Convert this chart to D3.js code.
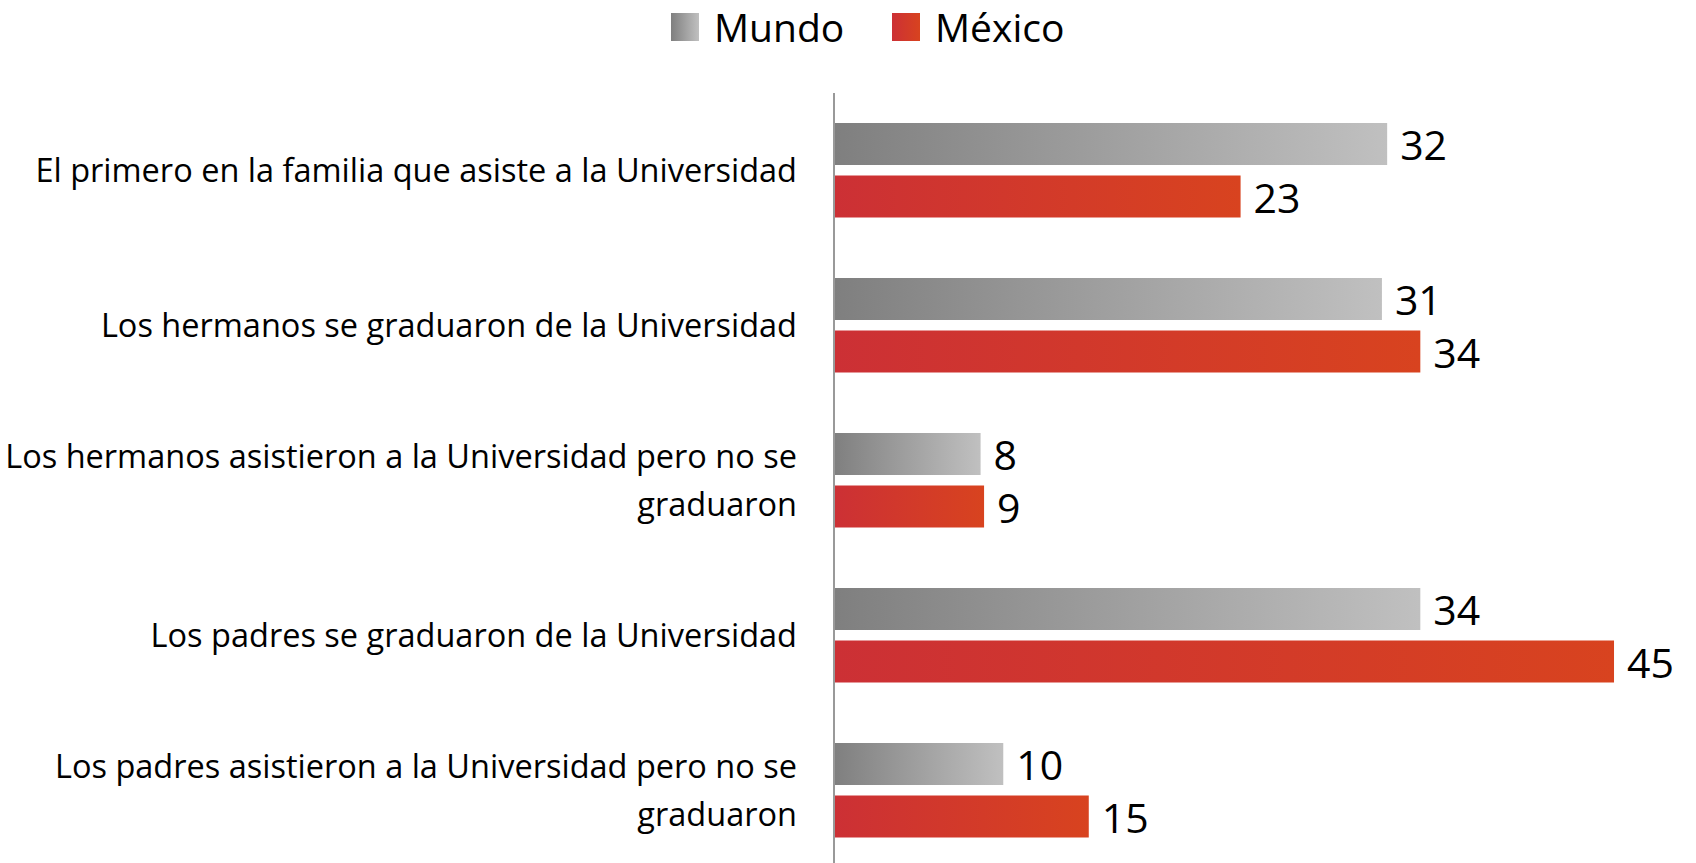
<!DOCTYPE html>
<html>
<head>
<meta charset="utf-8">
<script src="https://cdn.jsdelivr.net/npm/d3@7"></script>
<style>
  body { margin: 0; background: #fff; }
  text { font-family: "Open Sans", "Liberation Sans", sans-serif; fill: #000; font-variant-ligatures: none; }
</style>
</head>
<body>
<svg id="chart"></svg>
<script>
// categories, top to bottom
var categories = [
  "El primero en la familia que asiste a la Universidad",
  "Los hermanos se graduaron de la Universidad",
  "Los hermanos asistieron a la Universidad pero no se\ngraduaron",
  "Los padres se graduaron de la Universidad",
  "Los padres asistieron a la Universidad pero no se\ngraduaron"
];
var series = ["Mundo", "México"];
var mundo = [31.7, 31.4, 8.4, 33.6, 9.7];
var mexico = [23.3, 33.6, 8.6, 44.7, 14.6];

var width = 1696, height = 863;
var svg = d3.select("#chart").attr("width", width).attr("height", height);

var defs = svg.append("defs");
var grads = { "Mundo": ["#7f7f7f", "#c0c0c0"], "México": ["#cc3035", "#d8431f"] };
series.forEach(function(s, i){
  var g = defs.append("linearGradient").attr("id", "grad" + i);
  g.append("stop").attr("offset", "0%").attr("stop-color", grads[s][0]);
  g.append("stop").attr("offset", "100%").attr("stop-color", grads[s][1]);
});

var x = d3.scaleLinear().domain([0, 45]).range([834, 834 + 45 * 17.45]);
var y0 = d3.scaleBand().domain(categories).range([93, 93 + 5 * 155]);
var y1 = d3.scaleBand().domain(series).range([30, 124.5]).paddingInner(0.2);

var rows = categories.map(function(c, i){
  return { cat: c, vals: [ {s: "Mundo", v: mundo[i]}, {s: "México", v: mexico[i]} ] };
});

// bars
var grp = svg.selectAll(".grp").data(rows).enter().append("g")
  .attr("class", "grp")
  .attr("transform", function(d){ return "translate(0," + y0(d.cat) + ")"; });

grp.selectAll("rect").data(function(d){ return d.vals; }).enter().append("rect")
  .attr("x", x(0))
  .attr("y", function(d){ return y1(d.s); })
  .attr("width", function(d){ return x(d.v) - x(0); })
  .attr("height", y1.bandwidth())
  .attr("fill", function(d){ return "url(#grad" + series.indexOf(d.s) + ")"; });

grp.selectAll(".val").data(function(d){ return d.vals; }).enter().append("text")
  .attr("class", "val")
  .attr("x", function(d){ return x(d.v) + 13; })
  .attr("y", function(d){ return y1(d.s) + y1.bandwidth() / 2 + 16; })
  .style("font-size", "41px")
  .text(function(d){ return d3.format(".0f")(d.v); });

// vertical axis line
svg.append("line")
  .attr("x1", x(0)).attr("x2", x(0))
  .attr("y1", 93).attr("y2", height)
  .attr("stroke", "#999").attr("stroke-width", 2);

// category labels
svg.selectAll(".cat").data(categories).enter().append("text")
  .attr("class", "cat")
  .attr("text-anchor", "end")
  .style("font-size", "32.5px")
  .each(function(d){
    var lines = d.split("\n");
    var mid = y0(d) + y0.bandwidth() / 2 + 11;
    var lh = 48;
    var start = mid - (lines.length - 1) * lh / 2;
    var t = d3.select(this);
    lines.forEach(function(l, i){
      t.append("tspan").attr("x", 797).attr("y", start + i * lh).text(l);
    });
  });

// legend
var legX = [671, 892];
var leg = svg.selectAll(".leg").data(series).enter().append("g")
  .attr("class", "leg")
  .attr("transform", function(d, i){ return "translate(" + legX[i] + ",13)"; });
leg.append("rect").attr("width", 28).attr("height", 28)
  .attr("fill", function(d, i){ return "url(#grad" + i + ")"; });
leg.append("text").attr("x", 43).attr("y", 29)
  .style("font-size", "39px")
  .text(function(d){ return d; });
</script>
</body>
</html>
